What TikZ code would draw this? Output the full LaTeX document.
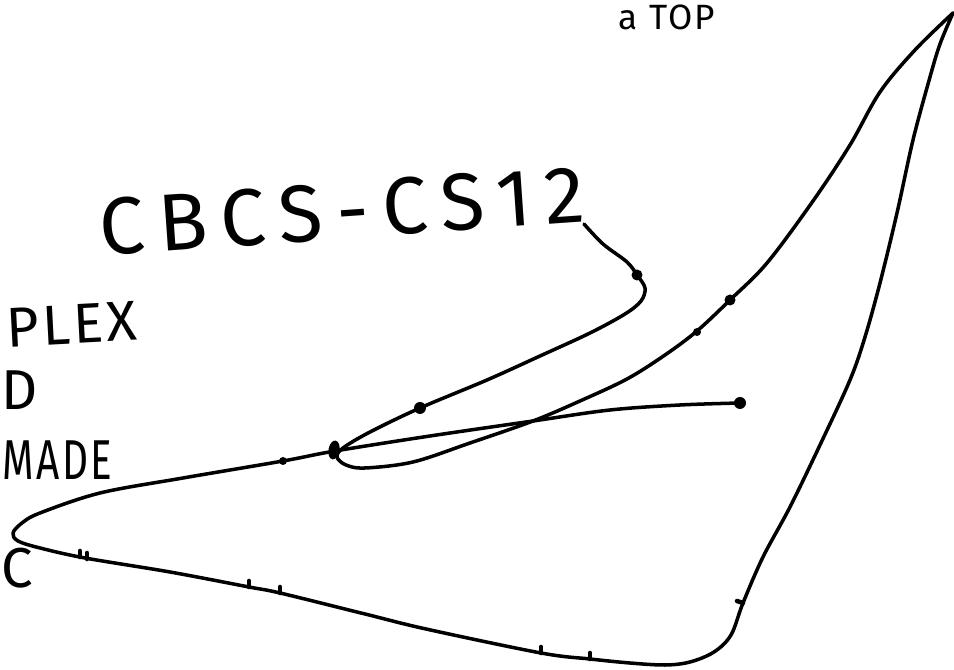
\documentclass[tikz,border=0pt]{standalone}
\usepackage{fontspec}
\setmainfont{Fira Sans}
\newfontfamily\handfont[LetterSpace=17]{Fira Sans}
\newfontfamily\notefont[LetterSpace=6]{Fira Sans}
\usetikzlibrary{shapes.geometric}

\begin{document}
\begin{tikzpicture}[x=0.1mm,y=-0.1mm,
    sketch/.style={line width=1pt, line cap=round, line join=round},
    blob/.style={circle, fill, inner sep=0pt, minimum size=#1},
    blob/.default=1.1mm,
    scrawl/.style={font=\notefont\fontsize{16}{18}\selectfont, inner sep=0pt}]
  \useasboundingbox (0,0) rectangle (954,670);
  \clip (0,0) rectangle (954,670);

  \node[font=\handfont\fontsize{23}{26}\selectfont, inner sep=0pt, rotate=4] (title) at (342,211) {CBCS-CS12};
  \node[font=\notefont\fontsize{10}{12}\selectfont, inner sep=0pt, anchor=west] (top) at (618,17) {a TOP};
  \node[scrawl, anchor=east, rotate=3] (plex) at (138,321) {PLEX};
  \node[scrawl, anchor=west] (dd) at (1,390) {D};
  \node[scrawl, anchor=east] (made) at (113,460) {\scalebox{0.72}[1]{MADE}};
  \node[scrawl, anchor=west] (cc) at (1,568) {C};

  \coordinate (hook) at (584,224);
  \coordinate (tip) at (953,13);

  \draw[sketch] plot[smooth, tension=0.55] coordinates {(hook) (603,244) (627,262) (637,275) (645,288) (641,301) (625,314)
    (590,333) (540,356) (487,380) (420,408) (370,432) (343,448) (337,457) (346,465) (365,468) (413,462)
    (470,443) (533,421) (580,401) (627,379) (665,355) (697,331) (730,300) (767,263) (813,201) (850,145)
    (880,92) (915,50) (tip)};

  \draw[sketch] plot[smooth, tension=0.55] coordinates {(tip) (940,44) (930,77) (913,140) (897,213) (880,283)
    (865,337) (850,380) (820,445) (790,507) (763,557) (743,603) (731,635) (714,652) (690,662) (665,665)
    (630,663) (590,659) (541,653) (426,629) (365,614) (280,593) (249,587) (170,572) (85,558) (40,548)
    (18,541) (13,533) (22,523) (40,513) (100,493) (183,478) (283,461) (335,451) (430,436) (533,421)
    (610,410) (680,405) (740,403)};

  \node[blob] (p1) at (637,275) {};
  \node[blob=1.2mm] (p2) at (420,408) {};
  \node[ellipse, fill, inner sep=0pt, minimum width=1.1mm, minimum height=1.9mm, rotate=-10] (p3) at (334,450) {};
  \node[blob=0.8mm] (p4) at (283,461) {};
  \node[blob] (p5) at (730,300) {};
  \node[blob=0.8mm] (p6) at (697,332) {};
  \node[blob=1.2mm] (p7) at (740,403) {};

  \foreach \x/\y in {80/557, 87/559, 249/587, 280/593, 541/653, 590/659}
    \draw[sketch, line width=1.3pt] (\x,\y) -- ++(0,-6);
  \draw[sketch, line width=1.3pt] (743,603) -- ++(-6,-2);
\end{tikzpicture}
\end{document}
